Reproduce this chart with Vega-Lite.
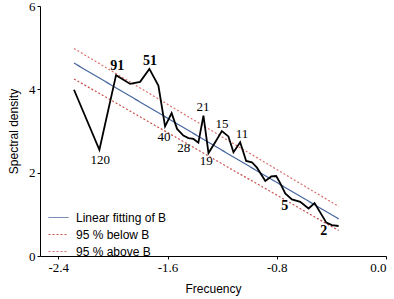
{
  "$schema": "https://vega.github.io/schema/vega-lite/v6.json",
  "width": 346,
  "height": 250,
  "autosize": {"type": "none"},
  "padding": {"left": 40, "top": 6, "right": 8, "bottom": 43},
  "background": "white",
  "config": {
    "view": {"stroke": null},
    "axis": {
      "grid": false,
      "domainColor": "#000",
      "domainWidth": 1,
      "tickColor": "#000",
      "tickSize": 3,
      "labelFont": "Liberation Serif",
      "labelFontSize": 13,
      "labelColor": "#000",
      "titleFont": "Liberation Sans",
      "titleFontSize": 12,
      "titleFontWeight": "normal",
      "titleColor": "#000"
    },
    "legend": {
      "labelFont": "Liberation Sans",
      "labelFontSize": 12,
      "labelColor": "#000"
    }
  },
  "datasets": {
    "spectrum": [
      {"x": -2.285, "y": 3.99}, {"x": -2.099, "y": 2.55}, {"x": -1.977, "y": 4.34},
      {"x": -1.874, "y": 4.13}, {"x": -1.801, "y": 4.18}, {"x": -1.733, "y": 4.49},
      {"x": -1.667, "y": 4.09}, {"x": -1.618, "y": 3.11}, {"x": -1.570, "y": 3.43},
      {"x": -1.530, "y": 3.05}, {"x": -1.484, "y": 2.89}, {"x": -1.447, "y": 2.83},
      {"x": -1.410, "y": 2.81}, {"x": -1.374, "y": 2.72}, {"x": -1.337, "y": 3.37},
      {"x": -1.300, "y": 2.47}, {"x": -1.251, "y": 2.73}, {"x": -1.202, "y": 3.00},
      {"x": -1.154, "y": 2.87}, {"x": -1.117, "y": 2.49}, {"x": -1.068, "y": 2.73},
      {"x": -1.024, "y": 2.28}, {"x": -0.982, "y": 2.25}, {"x": -0.945, "y": 2.12},
      {"x": -0.884, "y": 1.80}, {"x": -0.840, "y": 1.91}, {"x": -0.804, "y": 1.92},
      {"x": -0.775, "y": 1.75}, {"x": -0.738, "y": 1.50}, {"x": -0.689, "y": 1.36},
      {"x": -0.628, "y": 1.30}, {"x": -0.567, "y": 1.14}, {"x": -0.523, "y": 1.27},
      {"x": -0.437, "y": 0.80}, {"x": -0.396, "y": 0.74}, {"x": -0.347, "y": 0.72}
    ],
    "fits": [
      {"series": "Linear fitting of B", "x": -2.285, "y": 4.63},
      {"series": "Linear fitting of B", "x": -0.347, "y": 0.89},
      {"series": "95 % below B", "x": -2.285, "y": 4.25},
      {"series": "95 % below B", "x": -0.347, "y": 0.61},
      {"series": "95 % above B", "x": -2.285, "y": 4.98},
      {"series": "95 % above B", "x": -0.347, "y": 1.19}
    ],
    "labels": [
      {"x": -1.968, "y": 4.57, "label": "91", "weight": "bold"},
      {"x": -1.728, "y": 4.67, "label": "51", "weight": "bold"},
      {"x": -2.092, "y": 2.30, "label": "120", "weight": "normal"},
      {"x": -1.625, "y": 2.85, "label": "40", "weight": "normal"},
      {"x": -1.481, "y": 2.60, "label": "28", "weight": "normal"},
      {"x": -1.341, "y": 3.57, "label": "21", "weight": "normal"},
      {"x": -1.317, "y": 2.28, "label": "19", "weight": "normal"},
      {"x": -1.202, "y": 3.17, "label": "15", "weight": "normal"},
      {"x": -1.055, "y": 2.93, "label": "11", "weight": "normal"},
      {"x": -0.741, "y": 1.20, "label": "5", "weight": "bold"},
      {"x": -0.455, "y": 0.60, "label": "2", "weight": "bold"}
    ]
  },
  "layer": [
    {
      "data": {"name": "fits"},
      "mark": {"type": "line", "strokeWidth": 1.2},
      "encoding": {
        "x": {
          "field": "x", "type": "quantitative",
          "scale": {"domain": [-2.534, 0], "nice": false, "zero": false},
          "axis": {"values": [-2.4, -1.6, -0.8, 0], "format": ".1f", "labelExpr": "replace(datum.label, '\u2212', '-')", "title": "Frecuency", "titlePadding": 9, "labelPadding": 2}
        },
        "y": {
          "field": "y", "type": "quantitative",
          "scale": {"domain": [0, 6], "nice": false},
          "axis": {"values": [0, 2, 4, 6], "format": "d", "title": "Spectral density", "titlePadding": 8, "labelPadding": 2}
        },
        "color": {
          "field": "series", "type": "nominal",
          "scale": {"domain": ["Linear fitting of B", "95 % below B", "95 % above B"], "range": ["#46679e", "#c8504a", "#d9706a"]},
          "legend": {
            "title": null, "orient": "none", "legendX": 8, "legendY": 201,
            "symbolType": "stroke", "symbolSize": 400, "symbolStrokeWidth": 1,
            "labelOffset": 7, "rowPadding": -4
          }
        },
        "strokeDash": {
          "field": "series", "type": "nominal",
          "scale": {"domain": ["Linear fitting of B", "95 % below B", "95 % above B"], "range": [[1, 0], [2, 2], [2, 2]]},
          "legend": null
        },
        "detail": {"field": "series"}
      }
    },
    {
      "data": {"name": "spectrum"},
      "mark": {"type": "line", "color": "#000", "strokeWidth": 1.8},
      "encoding": {
        "x": {"field": "x", "type": "quantitative"},
        "y": {"field": "y", "type": "quantitative"}
      }
    },
    {
      "data": {"name": "labels"},
      "transform": [{"filter": "datum.weight == 'normal'"}],
      "mark": {"type": "text", "font": "Liberation Serif", "fontSize": 13, "fontWeight": "normal", "color": "#000", "align": "center", "baseline": "middle"},
      "encoding": {
        "x": {"field": "x", "type": "quantitative"},
        "y": {"field": "y", "type": "quantitative"},
        "text": {"field": "label"}
      }
    },
    {
      "data": {"name": "labels"},
      "transform": [{"filter": "datum.weight == 'bold'"}],
      "mark": {"type": "text", "font": "Liberation Serif", "fontSize": 14, "fontWeight": "bold", "color": "#000", "align": "center", "baseline": "middle"},
      "encoding": {
        "x": {"field": "x", "type": "quantitative"},
        "y": {"field": "y", "type": "quantitative"},
        "text": {"field": "label"}
      }
    }
  ]
}
